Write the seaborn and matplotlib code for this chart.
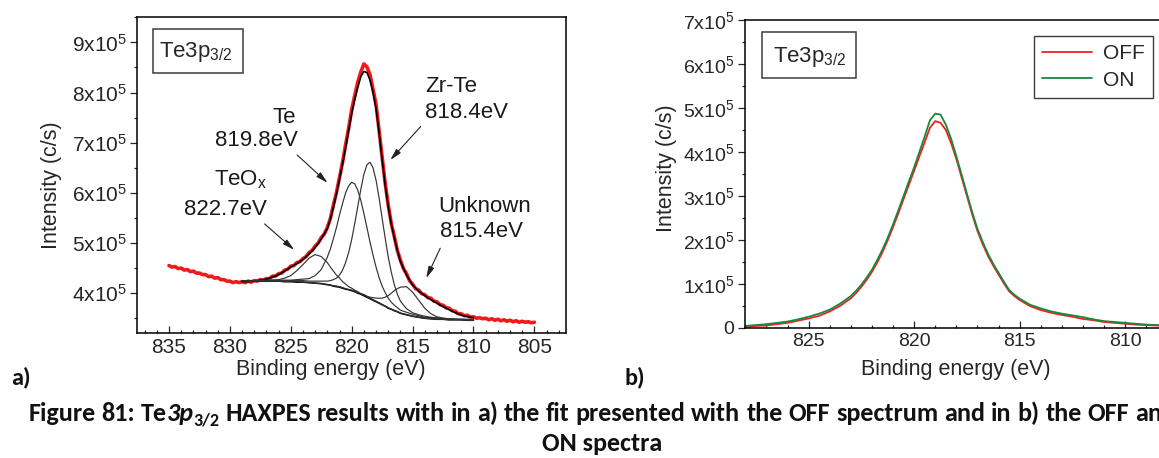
import numpy as np
import pandas as pd
import matplotlib
matplotlib.use("Agg")
import matplotlib.pyplot as plt
import seaborn as sns
from matplotlib.patches import Rectangle
from matplotlib.ticker import FuncFormatter, MultipleLocator

# --- datos panel a) : espectro OFF (x 1e5 c/s) ---
energia_a = [835, 834.75, 834.5, 834.25, 834, 833.75, 833.5, 833.25, 833, 832.75, 832.5, 832.25,
             832, 831.75, 831.5, 831.25, 831, 830.75, 830.5, 830.25, 830, 829.75, 829.5, 829.25,
             829, 828.75, 828.5, 828.25, 828, 827.75, 827.5, 827.25, 827, 826.75, 826.5, 826.25,
             826, 825.75, 825.5, 825.25, 825, 824.75, 824.5, 824.25, 824, 823.75, 823.5, 823.25,
             823, 822.75, 822.5, 822.25, 822, 821.75, 821.5, 821.25, 821, 820.75, 820.5, 820.25,
             820, 819.75, 819.5, 819.25, 819, 818.75, 818.5, 818.25, 818, 817.75, 817.5, 817.25,
             817, 816.75, 816.5, 816.25, 816, 815.75, 815.5, 815.25, 815, 814.75, 814.5, 814.25,
             814, 813.75, 813.5, 813.25, 813, 812.75, 812.5, 812.25, 812, 811.75, 811.5, 811.25,
             811, 810.75, 810.5, 810.25, 810, 809.75, 809.5, 809.25, 809, 808.75, 808.5, 808.25,
             808, 807.75, 807.5, 807.25, 807, 806.75, 806.5, 806.25, 806, 805.75, 805.5, 805.25, 805]
off_a = [4.55, 4.52, 4.53, 4.49, 4.50, 4.46, 4.47, 4.43, 4.44, 4.40, 4.40, 4.37,
         4.37, 4.33, 4.34, 4.30, 4.31, 4.27, 4.27, 4.24, 4.24, 4.21, 4.23, 4.21,
         4.23, 4.21, 4.24, 4.22, 4.25, 4.24, 4.27, 4.26, 4.29, 4.29, 4.34, 4.34,
         4.39, 4.40, 4.46, 4.48, 4.54, 4.55, 4.61, 4.63, 4.69, 4.73, 4.81, 4.85,
         4.94, 5.00, 5.11, 5.18, 5.31, 5.49, 5.76, 6.01, 6.31, 6.61, 6.96, 7.29,
         7.66, 7.94, 8.21, 8.41, 8.57, 8.51, 8.36, 8.07, 7.76, 7.24, 6.71, 6.19,
         5.76, 5.39, 5.13, 4.85, 4.66, 4.49, 4.39, 4.25, 4.18, 4.09, 4.06, 3.99,
         3.97, 3.91, 3.90, 3.84, 3.83, 3.77, 3.76, 3.71, 3.70, 3.65, 3.64, 3.59,
         3.59, 3.55, 3.56, 3.52, 3.53, 3.50, 3.51, 3.49, 3.50, 3.47, 3.49, 3.46,
         3.48, 3.45, 3.47, 3.44, 3.46, 3.43, 3.45, 3.42, 3.44, 3.42, 3.43, 3.41, 3.42]

# --- ajuste (fit) ---
energia_fit = [829, 828.5, 828, 827.5, 827, 826.5, 826, 825.5, 825, 824.5, 824, 823.5, 823,
               822.5, 822, 821.75, 821.5, 821.25, 821, 820.75, 820.5, 820.25, 820, 819.75,
               819.5, 819.25, 819, 818.75, 818.5, 818.25, 818, 817.75, 817.5, 817.25, 817,
               816.75, 816.5, 816.25, 816, 815.5, 815, 814.5, 814, 813.5, 813, 812.5, 812,
               811.5, 811, 810.5, 810]
envolvente = [4.23, 4.23, 4.24, 4.26, 4.28, 4.32, 4.37, 4.44, 4.52, 4.59, 4.67, 4.78, 4.91,
              5.08, 5.29, 5.48, 5.72, 5.98, 6.27, 6.58, 6.90, 7.24, 7.58, 7.86,
              8.10, 8.32, 8.42, 8.40, 8.25, 8.00, 7.68, 7.20, 6.66, 6.15, 5.72,
              5.38, 5.10, 4.85, 4.63, 4.36, 4.16, 4.04, 3.95, 3.87, 3.80, 3.73, 3.67,
              3.61, 3.56, 3.53, 3.51]
fondo = [4.24, 4.24, 4.24, 4.24, 4.24, 4.24, 4.24, 4.23, 4.23, 4.22, 4.22, 4.21, 4.20,
         4.19, 4.17, 4.16, 4.14, 4.13, 4.12, 4.10, 4.08, 4.07, 4.05, 4.03,
         4.00, 3.98, 3.95, 3.92, 3.89, 3.86, 3.83, 3.80, 3.77, 3.74, 3.70,
         3.68, 3.65, 3.63, 3.60, 3.57, 3.54, 3.52, 3.50, 3.49, 3.48, 3.48, 3.47,
         3.47, 3.47, 3.46, 3.46]
pico_teox = [4.25, 4.25, 4.25, 4.25, 4.25, 4.26, 4.27, 4.30, 4.35, 4.45, 4.57, 4.70, 4.77,
             4.73, 4.61, 4.52, 4.44, 4.36, 4.30, 4.23, 4.18, 4.13, 4.10, 4.06,
             4.03, 3.99, 3.97, 3.93, 3.90, 3.87, 3.84, 3.81, 3.77, 3.74, 3.71,
             3.68, 3.66, 3.63, 3.60, 3.57, 3.54, 3.52, 3.50, 3.49, 3.48, 3.48, 3.47,
             3.47, 3.47, 3.46, 3.46]
pico_te = [4.25, 4.25, 4.25, 4.26, 4.26, 4.26, 4.26, 4.26, 4.26, 4.27, 4.28, 4.29, 4.35,
           4.47, 4.72, 4.88, 5.09, 5.31, 5.56, 5.79, 6.00, 6.14, 6.21, 6.18,
           6.05, 5.85, 5.59, 5.31, 5.02, 4.76, 4.52, 4.31, 4.14, 4.01, 3.90,
           3.82, 3.76, 3.71, 3.66, 3.62, 3.58, 3.55, 3.52, 3.51, 3.50, 3.49, 3.48,
           3.48, 3.48, 3.47, 3.47]
pico_zrte = [4.25, 4.25, 4.25, 4.25, 4.25, 4.25, 4.25, 4.25, 4.25, 4.25, 4.25, 4.24, 4.24,
             4.24, 4.24, 4.25, 4.27, 4.30, 4.36, 4.46, 4.61, 4.81, 5.07, 5.39,
             5.73, 6.07, 6.37, 6.56, 6.61, 6.50, 6.25, 5.90, 5.49, 5.10, 4.72,
             4.42, 4.17, 3.98, 3.84, 3.69, 3.61, 3.57, 3.54, 3.52, 3.51, 3.50, 3.49,
             3.48, 3.48, 3.48, 3.47]
pico_unknown = [4.24, 4.24, 4.24, 4.24, 4.24, 4.24, 4.24, 4.23, 4.23, 4.23, 4.22, 4.21, 4.20,
                4.19, 4.17, 4.16, 4.15, 4.14, 4.13, 4.11, 4.09, 4.07, 4.06, 4.04,
                4.01, 3.99, 3.97, 3.94, 3.92, 3.91, 3.90, 3.90, 3.90, 3.92, 3.95,
                4.00, 4.05, 4.09, 4.12, 4.13, 4.02, 3.86, 3.70, 3.59, 3.53, 3.50, 3.49,
                3.48, 3.47, 3.47, 3.47]

# --- datos panel b) : OFF y ON (x 1e5 c/s) ---
energia_b = [828, 827.5, 827, 826.5, 826, 825.5, 825, 824.5, 824, 823.5,
             823, 822.75, 822.5, 822.25, 822, 821.75, 821.5, 821.25, 821, 820.75, 820.5,
             820.25, 820, 819.75, 819.5, 819.25, 819, 818.75, 818.5, 818.25, 818, 817.75,
             817.5, 817.25, 817, 816.75, 816.5, 816.25, 816, 815.75, 815.5, 815.25, 815,
             814.5, 814, 813.5, 813, 812.5, 812, 811.5, 811, 810.5, 810, 809.5, 809,
             808.5, 808, 807.5, 807, 806.5, 806]
off_b = [0.02, 0.04, 0.05, 0.08, 0.11, 0.16, 0.21, 0.27, 0.37, 0.50,
         0.67, 0.79, 0.93, 1.09, 1.27, 1.48, 1.72, 1.99, 2.29, 2.60, 2.93,
         3.25, 3.57, 3.90, 4.22, 4.55, 4.70, 4.66, 4.50, 4.20, 3.84, 3.42,
         3.00, 2.58, 2.20, 1.90, 1.63, 1.41, 1.21, 1.01, 0.83, 0.72, 0.63,
         0.49, 0.40, 0.34, 0.29, 0.25, 0.20, 0.17, 0.13, 0.11, 0.09, 0.07, 0.06,
         0.05, 0.04, 0.03, 0.03, 0.02, 0.02]
on_b = [0.04, 0.06, 0.08, 0.11, 0.14, 0.19, 0.25, 0.32, 0.41, 0.55,
        0.72, 0.84, 0.98, 1.14, 1.32, 1.54, 1.78, 2.05, 2.35, 2.67, 3.00,
        3.33, 3.65, 4.00, 4.35, 4.72, 4.87, 4.85, 4.62, 4.30, 3.90, 3.48,
        3.05, 2.63, 2.25, 1.95, 1.68, 1.45, 1.25, 1.05, 0.86, 0.75, 0.66,
        0.52, 0.44, 0.37, 0.32, 0.28, 0.24, 0.19, 0.15, 0.13, 0.11, 0.09, 0.07,
        0.06, 0.05, 0.04, 0.04, 0.03, 0.03]

ESCALA = 1e5
W, H = 1159, 458

# --- configuración visual ---
sns.set_style("ticks")
plt.rcParams['font.family'] = ['Liberation Sans', 'DejaVu Sans']
plt.rcParams['mathtext.default'] = 'regular'
plt.rcParams['axes.linewidth'] = 1.1
plt.rcParams['axes.edgecolor'] = 'black'

fig = plt.figure(figsize=(11.59, 4.58), dpi=100)
ax1 = fig.add_axes([0.1185, 0.2723, 0.3699, 0.6899])
ax2 = fig.add_axes([0.6431, 0.2845, 0.4005, 0.6718])


def etiqueta_y(v, pos):
    n = int(round(v / ESCALA))
    return '0' if n == 0 else f'{n}x10$^5$'


def estilo_ejes(ax, tam):
    ax.xaxis.set_major_locator(MultipleLocator(5))
    ax.xaxis.set_minor_locator(MultipleLocator(1))
    ax.yaxis.set_major_locator(MultipleLocator(1e5))
    ax.yaxis.set_minor_locator(MultipleLocator(0.5e5))
    ax.yaxis.set_major_formatter(FuncFormatter(etiqueta_y))
    ax.xaxis.set_major_formatter(FuncFormatter(lambda v, p: f'{v:.0f}'))
    ax.tick_params(axis='x', which='both', direction='in', width=0.9, labelsize=tam, pad=3.5,
                   top=False)
    ax.tick_params(axis='x', which='major', length=4.8)
    ax.tick_params(axis='x', which='minor', length=2.4)
    ax.tick_params(axis='y', which='both', direction='out', width=0.9, labelsize=tam, pad=3,
                   right=False)
    ax.tick_params(axis='y', which='major', length=4.8)
    ax.tick_params(axis='y', which='minor', length=2.4)
    for s in ax.spines.values():
        s.set_visible(True)
        s.set_linewidth(1.1)


# ==================== PANEL a) ====================
df_a = pd.DataFrame({'energia': energia_a, 'intensidad': np.array(off_a) * ESCALA})
sns.lineplot(data=df_a, x='energia', y='intensidad', ax=ax1, color='#f01a1a', lw=2.6,
             sort=False, estimator=None)

curvas = {'envolvente': envolvente, 'fondo': fondo, 'TeOx': pico_teox, 'Te': pico_te,
          'Zr-Te': pico_zrte, 'Unknown': pico_unknown}
for nombre, valores in curvas.items():
    df_c = pd.DataFrame({'energia': energia_fit, 'intensidad': np.array(valores) * ESCALA})
    grueso = nombre in ('envolvente', 'fondo')
    sns.lineplot(data=df_c, x='energia', y='intensidad', ax=ax1, sort=False, estimator=None,
                 color='black' if grueso else '#333333', lw=1.2 if grueso else 0.85)

ax1.set_xlim(837.6, 802.4)
ax1.set_ylim(3.2e5, 9.5e5)
estilo_ejes(ax1, 15)

# textos y flechas
txt = dict(fontsize=16, color='#1a1a1a')
ax1.text(824.59, 7.51e5, 'Te', ha='right', va='center', **txt)
ax1.text(824.43, 7.05e5, '819.8eV', ha='right', va='center', **txt)
ax1.text(813.93, 8.13e5, 'Zr-Te', ha='left', va='center', **txt)
ax1.text(814.0, 7.61e5, '818.4eV', ha='left', va='center', **txt)
ax1.text(826.97, 6.26e5, 'TeO$_x$', ha='right', va='center', **txt)
ax1.text(826.97, 5.66e5, '822.7eV', ha='right', va='center', **txt)
ax1.text(812.87, 5.72e5, 'Unknown', ha='left', va='center', **txt)
ax1.text(812.79, 5.22e5, '815.4eV', ha='left', va='center', **txt)

flecha = dict(arrowstyle='-|>,head_length=0.7,head_width=0.18', color='#222222', lw=0.8,
              shrinkA=0, shrinkB=0)
ax1.annotate('', xy=(821.98, 6.20e5), xytext=(824.48, 6.755e5), arrowprops=flecha)
ax1.annotate('', xy=(816.83, 6.655e5), xytext=(814.34, 7.32e5), arrowprops=flecha)
ax1.annotate('', xy=(824.72, 4.863e5), xytext=(827.15, 5.38e5), arrowprops=flecha)
ax1.annotate('', xy=(813.88, 4.30e5), xytext=(812.73, 4.896e5), arrowprops=flecha)

ax1.add_patch(Rectangle((0.0373, 0.8228), 0.21, 0.1392, transform=ax1.transAxes,
                        fill=False, ec='#3c3c3c', lw=1.1))
ax1.text(0.0513, 0.8753, 'Te3p$_{3/2}$', transform=ax1.transAxes, fontsize=16,
         ha='left', va='baseline')

ax1.set_xlabel('Binding energy (eV)', fontsize=15.5)
ax1.set_ylabel('Intensity (c/s)', fontsize=15.5)

# ==================== PANEL b) ====================
df_b = pd.DataFrame({
    'energia': energia_b * 2,
    'intensidad': np.array(off_b + on_b) * ESCALA,
    'estado': ['OFF'] * len(off_b) + ['ON'] * len(on_b),
})
sns.lineplot(data=df_b, x='energia', y='intensidad', hue='estado', ax=ax2, sort=False,
             estimator=None, palette={'OFF': '#f02020', 'ON': '#16893c'}, lw=1.3)

ax2.set_xlim(828, 806)
ax2.set_ylim(0, 7e5)
estilo_ejes(ax2, 14)

ax2.add_patch(Rectangle((0.0353, 0.8105), 0.2025, 0.1495, transform=ax2.transAxes,
                        fill=False, ec='#3c3c3c', lw=1.1))
ax2.text(0.059, 0.8645, 'Te3p$_{3/2}$', transform=ax2.transAxes, fontsize=16,
         ha='left', va='baseline')

leg = ax2.legend(loc='upper left', bbox_to_anchor=(1034 / W, 1 - 36 / H),
                 bbox_transform=fig.transFigure, frameon=True, fancybox=False,
                 edgecolor='#3c3c3c', framealpha=1, fontsize=15, handlelength=2.4,
                 borderpad=0.4, labelspacing=0.35, handletextpad=0.5, borderaxespad=0)
leg.get_frame().set_linewidth(1.0)
for h in leg.get_lines():
    h.set_linewidth(1.3)

ax2.set_xlabel('Binding energy (eV)', fontsize=15.5)
ax2.set_ylabel('Intensity (c/s)', fontsize=15.5)

# posiciones de etiquetas de ejes (pixeles de la figura)
for ax, (xl, yl) in [(ax1, ((331, 370), (52, 185))), (ax2, ((956, 370), (666, 168)))]:
    ax.xaxis.set_label_coords(xl[0] / W, 1 - xl[1] / H, transform=fig.transFigure)
    ax.xaxis.label.set_verticalalignment('center')
    ax.yaxis.set_label_coords(yl[0] / W, 1 - yl[1] / H, transform=fig.transFigure)
    ax.yaxis.label.set_verticalalignment('center')

# --- rótulos a) b) y pie de figura (centrado, la 1a línea se corta en el borde) ---
cap = dict(family=['Carlito', 'DejaVu Sans'], fontweight='bold', color='#111111')
TAM_PIE = 18.8
fig.text(11 / W, 1 - 384 / H, 'a)', fontsize=17.5, ha='left', va='baseline', **cap)
fig.text(625 / W, 1 - 384 / H, 'b)', fontsize=17.5, ha='left', va='baseline', **cap)

linea1 = ('Figure 81: Te3p HAXPES results with in a) the fit presented with the OFF '
          'spectrum and in b) the OFF and').split()


def partes(palabra):
    if palabra == 'Te3p':
        return [('Te', {}, 0), ('3p', {'style': 'italic'}, 0),
                ('3/2', {'fontsize': 13}, -4)]
    return [(palabra, {}, 0)]


renderer = fig.canvas.get_renderer()
t_a = fig.text(0, 0, 'a a', fontsize=TAM_PIE, **cap)
t_b = fig.text(0, 0, 'aa', fontsize=TAM_PIE, **cap)
espacio = t_a.get_window_extent(renderer).width - t_b.get_window_extent(renderer).width
t_a.remove()
t_b.remove()

base1 = 1 - 421 / H
grupos = []
for p in linea1:
    objs = []
    for texto, extra, dy in partes(p):
        kw = dict(cap, fontsize=TAM_PIE)
        kw.update(extra)
        objs.append(fig.text(0, base1 + dy / H, texto, ha='left', va='baseline', **kw))
    grupos.append((objs, [o.get_window_extent(renderer).width for o in objs]))

total = sum(sum(a) for _, a in grupos) + espacio * (len(grupos) - 1)
x = 602 - total / 2
for objs, anchos in grupos:
    for o, a in zip(objs, anchos):
        o.set_x(x / W)
        x += a
    x += espacio

fig.text(602 / W, 1 - 451 / H, 'ON spectra', fontsize=TAM_PIE, ha='center', va='baseline',
         **cap)

fig.savefig('out.png', dpi=100)
